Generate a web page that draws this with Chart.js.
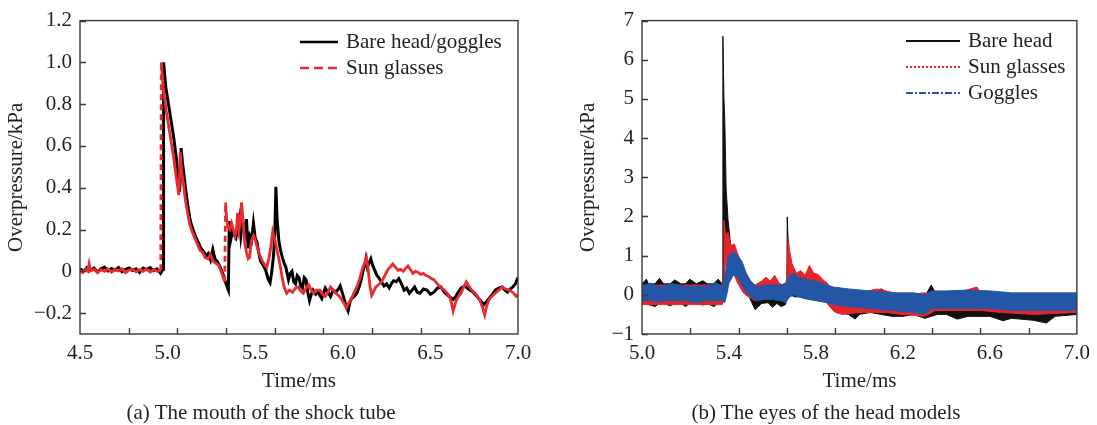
<!DOCTYPE html>
<html>
<head>
<meta charset="utf-8">
<script src="https://cdn.jsdelivr.net/npm/chart.js@4.4.1/dist/chart.umd.min.js"></script>
<style>
  body { margin: 0; background: #fff; }
  #wrap { position: relative; width: 1097px; height: 425px; overflow: hidden; }
  .panel { position: absolute; top: 0; height: 425px; }
  .cap { position: absolute; top: 400px; line-height: 26px; font: 21px "Liberation Serif", serif; color: #231f20;
         white-space: nowrap; transform: translateX(-50%); }
</style>
</head>
<body>
<div id="wrap">
  <div class="panel" style="left:0;width:545px"><canvas id="chartA" width="545" height="425"></canvas></div>
  <div class="panel" style="left:545px;width:552px"><canvas id="chartB" width="552" height="425"></canvas></div>
  <div class="cap" style="left:261px">(a) The mouth of the shock tube</div>
  <div class="cap" style="left:826px">(b) The eyes of the head models</div>
</div>
<script>
// (a) mouth of the shock tube : [time ms, overpressure kPa]
var bareHeadA = [
  [4.500, 0.012], [4.520, 0.000], [4.540, 0.018], [4.560, 0.004], [4.580, 0.016], [4.600, -0.004],
  [4.620, 0.012], [4.640, 0.020], [4.660, 0.002], [4.680, 0.014], [4.700, 0.006], [4.720, 0.018],
  [4.740, -0.002], [4.760, 0.010], [4.780, 0.016], [4.800, 0.004], [4.820, 0.012], [4.840, -0.006],
  [4.860, 0.015], [4.880, 0.008], [4.900, 0.018], [4.920, 0.003], [4.940, 0.012], [4.960, -0.010],
  [4.974, 0.010], [4.977, 1.000], [4.990, 0.880], [5.005, 0.800], [5.020, 0.720], [5.035, 0.640],
  [5.050, 0.540], [5.060, 0.460], [5.068, 0.380], [5.073, 0.450], [5.077, 0.590], [5.085, 0.520],
  [5.095, 0.450], [5.105, 0.380], [5.118, 0.300], [5.130, 0.240], [5.145, 0.200], [5.160, 0.165],
  [5.175, 0.140], [5.190, 0.110], [5.205, 0.095], [5.220, 0.075], [5.232, 0.085], [5.245, 0.055],
  [5.258, 0.105], [5.270, 0.060], [5.285, 0.045], [5.300, 0.020], [5.315, -0.010], [5.328, -0.045],
  [5.340, -0.075], [5.347, -0.090], [5.352, 0.240], [5.360, 0.150], [5.370, 0.190], [5.380, 0.175],
  [5.390, 0.160], [5.400, 0.200], [5.410, 0.250], [5.418, 0.170], [5.428, 0.240], [5.440, 0.175],
  [5.450, 0.250], [5.460, 0.110], [5.470, 0.170], [5.480, 0.150], [5.490, 0.230], [5.500, 0.160],
  [5.510, 0.140], [5.520, 0.090], [5.530, 0.050], [5.545, 0.030], [5.560, 0.005], [5.575, -0.040],
  [5.585, -0.055], [5.595, 0.000], [5.605, 0.080], [5.612, 0.180], [5.618, 0.405], [5.625, 0.250],
  [5.635, 0.145], [5.645, 0.100], [5.655, 0.067], [5.665, 0.040], [5.675, 0.020], [5.690, -0.040],
  [5.700, -0.010], [5.710, 0.000], [5.720, -0.050], [5.730, -0.060], [5.740, -0.020], [5.750, -0.030],
  [5.760, -0.070], [5.770, -0.080], [5.780, -0.030], [5.790, -0.040], [5.800, -0.100], [5.810, -0.140],
  [5.820, -0.110], [5.830, -0.090], [5.845, -0.110], [5.860, -0.100], [5.880, -0.130], [5.900, -0.080],
  [5.915, -0.100], [5.930, -0.120], [5.945, -0.090], [5.960, -0.100], [5.975, -0.085], [5.985, -0.070],
  [6.000, -0.110], [6.010, -0.140], [6.020, -0.170], [6.030, -0.190], [6.040, -0.150], [6.050, -0.130],
  [6.065, -0.120], [6.080, -0.105], [6.095, -0.070], [6.105, -0.040], [6.115, 0.000], [6.125, 0.030],
  [6.132, 0.060], [6.140, 0.020], [6.150, 0.040], [6.160, 0.060], [6.170, 0.030], [6.185, 0.000],
  [6.195, -0.020], [6.205, -0.030], [6.220, -0.050], [6.235, -0.070], [6.250, -0.060], [6.265, -0.080],
  [6.280, -0.055], [6.290, -0.045], [6.305, -0.050], [6.320, -0.035], [6.335, -0.060], [6.350, -0.090],
  [6.365, -0.080], [6.380, -0.105], [6.395, -0.090], [6.410, -0.075], [6.425, -0.100], [6.440, -0.105],
  [6.460, -0.085], [6.480, -0.090], [6.500, -0.110], [6.520, -0.100], [6.540, -0.080], [6.560, -0.075],
  [6.580, -0.100], [6.600, -0.115], [6.615, -0.125], [6.630, -0.135], [6.645, -0.120], [6.655, -0.105],
  [6.675, -0.080], [6.695, -0.070], [6.710, -0.080], [6.725, -0.090], [6.745, -0.100], [6.765, -0.120],
  [6.785, -0.140], [6.805, -0.160], [6.820, -0.145], [6.835, -0.130], [6.855, -0.110], [6.870, -0.090],
  [6.890, -0.080], [6.910, -0.075], [6.925, -0.090], [6.940, -0.100], [6.955, -0.085], [6.970, -0.075],
  [6.985, -0.060], [7.000, -0.030]
];
var sunGlassesA = [
  [4.500, 0.004], [4.515, -0.006], [4.530, 0.010], [4.545, 0.000], [4.552, 0.035], [4.560, 0.002],
  [4.580, 0.010], [4.600, -0.006], [4.620, 0.008], [4.640, 0.000], [4.660, 0.012], [4.680, -0.004],
  [4.700, 0.008], [4.720, 0.002], [4.740, 0.012], [4.760, -0.006], [4.780, 0.006], [4.800, 0.010],
  [4.820, -0.002], [4.840, 0.008], [4.860, 0.000], [4.880, 0.012], [4.900, -0.004], [4.920, 0.008],
  [4.940, 0.000], [4.961, 0.005], [4.964, 1.000], [4.975, 0.880], [4.990, 0.780], [5.005, 0.700],
  [5.020, 0.620], [5.035, 0.540], [5.048, 0.460], [5.058, 0.400], [5.064, 0.365], [5.068, 0.440],
  [5.072, 0.570], [5.080, 0.480], [5.090, 0.420], [5.100, 0.350], [5.112, 0.290], [5.125, 0.230],
  [5.140, 0.190], [5.155, 0.160], [5.170, 0.130], [5.185, 0.100], [5.200, 0.090], [5.215, 0.065],
  [5.230, 0.060], [5.245, 0.080], [5.258, 0.050], [5.272, 0.040], [5.290, 0.030], [5.305, 0.000],
  [5.318, -0.030], [5.326, -0.050], [5.331, 0.330], [5.337, 0.250], [5.345, 0.210], [5.355, 0.200],
  [5.365, 0.230], [5.375, 0.200], [5.385, 0.170], [5.393, 0.200], [5.400, 0.280], [5.408, 0.200],
  [5.416, 0.240], [5.422, 0.330], [5.430, 0.250], [5.440, 0.140], [5.450, 0.090], [5.460, 0.060],
  [5.468, 0.066], [5.478, 0.145], [5.490, 0.170], [5.500, 0.150], [5.510, 0.120], [5.525, 0.080],
  [5.540, 0.050], [5.555, 0.030], [5.566, 0.020], [5.578, 0.060], [5.590, 0.120], [5.600, 0.190],
  [5.610, 0.160], [5.625, 0.100], [5.640, 0.040], [5.652, -0.020], [5.665, -0.075], [5.680, -0.105],
  [5.695, -0.090], [5.713, -0.100], [5.730, -0.080], [5.745, -0.075], [5.760, -0.095], [5.775, -0.105],
  [5.790, -0.080], [5.805, -0.065], [5.820, -0.090], [5.835, -0.105], [5.850, -0.090], [5.870, -0.090],
  [5.885, -0.110], [5.900, -0.120], [5.915, -0.100], [5.930, -0.075], [5.945, -0.090], [5.960, -0.105],
  [5.975, -0.115], [5.990, -0.130], [6.005, -0.150], [6.020, -0.175], [6.035, -0.150], [6.050, -0.130],
  [6.065, -0.100], [6.080, -0.075], [6.095, -0.040], [6.105, -0.010], [6.115, 0.020], [6.125, 0.040],
  [6.135, 0.065], [6.145, 0.010], [6.155, -0.070], [6.165, -0.115], [6.175, -0.100], [6.185, -0.080],
  [6.195, -0.070], [6.210, -0.060], [6.225, -0.045], [6.240, -0.020], [6.255, 0.005], [6.270, 0.020],
  [6.285, 0.035], [6.300, 0.020], [6.315, 0.005], [6.330, 0.010], [6.345, 0.000], [6.360, 0.015],
  [6.372, 0.026], [6.385, 0.010], [6.400, -0.010], [6.415, 0.000], [6.430, -0.005], [6.445, -0.015],
  [6.460, -0.010], [6.475, -0.020], [6.490, -0.025], [6.505, -0.035], [6.520, -0.040], [6.535, -0.055],
  [6.550, -0.070], [6.565, -0.080], [6.580, -0.090], [6.595, -0.105], [6.610, -0.120], [6.620, -0.150],
  [6.630, -0.190], [6.645, -0.145], [6.660, -0.120], [6.675, -0.105], [6.690, -0.075], [6.705, -0.050],
  [6.720, -0.070], [6.735, -0.090], [6.750, -0.100], [6.765, -0.115], [6.780, -0.135], [6.790, -0.155],
  [6.800, -0.180], [6.810, -0.210], [6.820, -0.170], [6.835, -0.135], [6.850, -0.120], [6.870, -0.105],
  [6.890, -0.090], [6.910, -0.075], [6.930, -0.085], [6.950, -0.090], [6.970, -0.100], [6.990, -0.120],
  [7.000, -0.110]
];
var xLabelsA = [4.5, 5.0, 5.5, 6.0, 6.5, 7.0];
var yLabelsA = [-0.2, 0, 0.2, 0.4, 0.6, 0.8, 1.0, 1.2];

// (b) eyes of the head models : noise band [time ms, upper kPa, lower kPa]
var bareHeadB = [
  [5.00, 0.28, -0.22], [5.02, 0.40, -0.22], [5.03, 0.28, -0.25], [5.06, 0.28, -0.30], [5.08, 0.42, -0.22],
  [5.10, 0.28, -0.22], [5.13, 0.28, -0.28], [5.15, 0.38, -0.22], [5.18, 0.28, -0.22], [5.20, 0.28, -0.30],
  [5.22, 0.40, -0.22], [5.25, 0.28, -0.22], [5.28, 0.36, -0.26], [5.30, 0.28, -0.22], [5.33, 0.28, -0.30],
  [5.35, 0.40, -0.22], [5.368, 0.28, -0.20], [5.372, 6.60, -0.10], [5.377, 5.00, 1.20], [5.381, 4.40, 1.50],
  [5.387, 2.70, 1.40], [5.396, 1.90, 1.20], [5.407, 1.30, 1.00], [5.43, 1.00, 0.80], [5.46, 0.75, 0.50],
  [5.48, 0.40, 0.10], [5.505, 0.10, -0.20], [5.52, 0.15, -0.38], [5.55, 0.25, -0.22], [5.58, 0.30, -0.20],
  [5.60, 0.22, -0.32], [5.62, 0.30, -0.22], [5.64, 0.20, -0.30], [5.66, 0.25, -0.25], [5.666, 0.25, -0.10],
  [5.668, 1.99, 0.00], [5.674, 1.05, 0.00], [5.686, 0.55, 0.00], [5.70, 0.45, -0.05], [5.75, 0.50, -0.05],
  [5.80, 0.45, -0.05], [5.85, 0.30, -0.20], [5.88, 0.10, -0.40], [5.90, 0.00, -0.45], [5.95, -0.05, -0.50],
  [5.98, -0.05, -0.62], [6.00, -0.05, -0.50], [6.05, 0.05, -0.45], [6.10, 0.15, -0.50], [6.15, 0.00, -0.55],
  [6.20, -0.05, -0.55], [6.25, -0.05, -0.50], [6.30, -0.05, -0.60], [6.33, 0.25, -0.55], [6.36, -0.05, -0.50],
  [6.40, -0.05, -0.50], [6.45, -0.05, -0.62], [6.50, 0.00, -0.55], [6.60, -0.05, -0.55], [6.66, -0.05, -0.66],
  [6.70, -0.05, -0.60], [6.80, -0.05, -0.65], [6.86, -0.05, -0.72], [6.90, -0.05, -0.55], [7.00, -0.05, -0.50]
];
var sunGlassesB = [
  [5.00, 0.25, -0.25], [5.10, 0.25, -0.25], [5.20, 0.25, -0.25], [5.30, 0.25, -0.25], [5.37, 0.25, -0.25],
  [5.374, 0.30, -0.10], [5.377, 1.90, 0.30], [5.385, 1.50, 0.90], [5.395, 1.60, 0.70], [5.41, 1.25, 0.60],
  [5.425, 1.30, 0.50], [5.44, 1.05, 0.30], [5.46, 0.75, 0.10], [5.475, 0.55, 0.00], [5.49, 0.35, -0.05],
  [5.505, 0.20, -0.10], [5.52, 0.25, -0.15], [5.55, 0.35, -0.10], [5.57, 0.45, 0.00], [5.59, 0.35, 0.05],
  [5.61, 0.50, 0.05], [5.63, 0.30, -0.05], [5.65, 0.25, -0.10], [5.666, 0.20, -0.10], [5.672, 1.45, 0.00],
  [5.68, 1.10, 0.20], [5.69, 0.80, 0.20], [5.71, 0.55, 0.15], [5.73, 0.62, 0.10], [5.75, 0.50, 0.15],
  [5.77, 0.75, 0.20], [5.79, 0.55, 0.20], [5.81, 0.52, 0.15], [5.83, 0.40, 0.00], [5.85, 0.30, -0.20],
  [5.87, 0.10, -0.35], [5.89, 0.05, -0.45], [5.92, 0.05, -0.50], [6.00, 0.05, -0.45], [6.08, 0.15, -0.45],
  [6.12, 0.10, -0.45], [6.20, 0.00, -0.50], [6.30, 0.05, -0.55], [6.35, 0.00, -0.40], [6.45, 0.05, -0.40],
  [6.54, 0.20, -0.40], [6.56, 0.05, -0.40], [6.65, 0.00, -0.45], [6.80, 0.00, -0.50], [7.00, -0.05, -0.45]
];
var gogglesB = [
  [5.00, 0.22, -0.15], [5.04, 0.30, -0.15], [5.07, 0.22, -0.18], [5.10, 0.22, -0.15], [5.14, 0.28, -0.15],
  [5.20, 0.22, -0.15], [5.24, 0.22, -0.20], [5.30, 0.22, -0.15], [5.34, 0.30, -0.15], [5.372, 0.22, -0.15],
  [5.38, 0.40, -0.20], [5.39, 0.80, 0.00], [5.40, 1.00, 0.30], [5.42, 1.10, 0.50], [5.44, 1.00, 0.45],
  [5.46, 0.85, 0.25], [5.48, 0.55, 0.05], [5.50, 0.35, -0.05], [5.53, 0.20, -0.15], [5.56, 0.25, -0.12],
  [5.60, 0.25, -0.12], [5.64, 0.25, -0.15], [5.66, 0.30, -0.20], [5.68, 0.50, -0.05], [5.70, 0.55, 0.00],
  [5.72, 0.45, -0.05], [5.75, 0.40, -0.10], [5.80, 0.35, -0.15], [5.85, 0.25, -0.20], [5.88, 0.20, -0.25],
  [5.95, 0.15, -0.30], [6.05, 0.10, -0.35], [6.15, 0.05, -0.40], [6.25, 0.05, -0.45], [6.30, 0.00, -0.50],
  [6.33, 0.10, -0.35], [6.40, 0.10, -0.35], [6.50, 0.12, -0.35], [6.60, 0.10, -0.35], [6.70, 0.05, -0.40],
  [6.80, 0.05, -0.40], [6.90, 0.05, -0.40], [7.00, 0.05, -0.40]
];
var xLabelsB = [5.0, 5.4, 5.8, 6.2, 6.6, 7.0];
var yLabelsB = [-1, 0, 1, 2, 3, 4, 5, 6, 7];

var FONT = '"Liberation Serif", "Times New Roman", serif';
var INK = '#231f20';
var AXIS = '#3a3a3a';
Chart.defaults.font.family = FONT;
Chart.defaults.font.size = 21;
Chart.defaults.color = INK;

function minus(s) { return s.replace('-', '\u2212'); }

// box, inward ticks (9 divisions on x) and the legend inside the plot
var framePlugin = {
  id: 'frame',
  afterDatasetsDraw: function(chart, args, opts) {
    var ctx = chart.ctx, a = chart.chartArea, x = chart.scales.x, y = chart.scales.y;
    ctx.save();
    ctx.strokeStyle = AXIS;
    ctx.lineWidth = 1.4;
    ctx.strokeRect(a.left, a.top, a.right - a.left, a.bottom - a.top);
    ctx.beginPath();
    for (var k = 1; k < 9; k++) {
      var px = Math.round(x.getPixelForValue(x.min + k * (x.max - x.min) / 9)) + 0.5;
      ctx.moveTo(px, a.bottom); ctx.lineTo(px, a.bottom - 6);
    }
    y.ticks.forEach(function(t) {
      var py = Math.round(y.getPixelForValue(t.value)) + 0.5;
      ctx.moveTo(a.left, py); ctx.lineTo(a.left + 6, py);
    });
    ctx.stroke();

    var items = chart.data.datasets.filter(function(d) { return d.legendLabel; })
      .sort(function(p, q) { return p.legendRank - q.legendRank; });
    ctx.font = '21px ' + FONT;
    ctx.textBaseline = 'middle';
    ctx.fillStyle = INK;
    items.forEach(function(d, i) {
      var ry = opts.rows[i];
      ctx.beginPath();
      ctx.strokeStyle = d.borderColor;
      ctx.lineWidth = d.legendWidth || 2;
      ctx.setLineDash(d.legendDash || []);
      ctx.moveTo(opts.x0, ry); ctx.lineTo(opts.x1, ry);
      ctx.stroke();
      ctx.setLineDash([]);
      ctx.fillText(d.legendLabel, opts.tx, ry);
    });
    ctx.restore();
  }
};

function scalesFor(xMin, xMax, xLabels, yMin, yMax, yLabels, yFmt, yWidth, yTitlePad) {
  return {
    x: {
      type: 'linear', min: xMin, max: xMax,
      afterBuildTicks: function(s) { s.ticks = xLabels.map(function(v) { return { value: v }; }); },
      afterFit: function(s) { s.height = 60; },
      ticks: { padding: 7, maxRotation: 0, autoSkip: false, color: INK,
               callback: function(v) { return v.toFixed(1); } },
      grid: { display: false, drawTicks: false },
      border: { display: false },
      title: { display: true, text: 'Time/ms', color: INK, padding: { top: 0, bottom: 0 } }
    },
    y: {
      min: yMin, max: yMax,
      afterBuildTicks: function(s) { s.ticks = yLabels.map(function(v) { return { value: v }; }); },
      afterFit: function(s) { s.width = yWidth; },
      ticks: { padding: 8, autoSkip: false, color: INK, callback: function(v) { return minus(yFmt(v)); } },
      grid: { display: false, drawTicks: false },
      border: { display: false },
      title: { display: true, text: 'Overpressure/kPa', color: INK, padding: { top: yTitlePad, bottom: 0 } }
    }
  };
}

// ---- (a) ----
new Chart(document.getElementById('chartA'), {
  type: 'line',
  data: {
    datasets: [
      {
        data: sunGlassesA.map(function(p) { return { x: p[0], y: p[1] }; }),
        borderColor: '#ea2a2f', borderWidth: 2.8, pointRadius: 0, tension: 0, order: 0,
        segment: { borderDash: function(c) { return Math.abs(c.p1.y - c.p0.y) > 40 ? [6, 4] : undefined; } },
        legendLabel: 'Sun glasses', legendRank: 1, legendDash: [9, 5], legendWidth: 2.5
      },
      {
        data: bareHeadA.map(function(p) { return { x: p[0], y: p[1] }; }),
        borderColor: '#000000', borderWidth: 3, pointRadius: 0, tension: 0, order: 1,
        legendLabel: 'Bare head/goggles', legendRank: 0, legendWidth: 2.5
      }
    ]
  },
  options: {
    responsive: false, animation: false, events: [],
    layout: { padding: { left: 0, right: 27, top: 16, bottom: 31 } },
    scales: scalesFor(4.5, 7.0, xLabelsA, -0.3, 1.2, yLabelsA,
      function(v) { return v === 0 ? '0' : v.toFixed(1); }, 80, 4),
    plugins: { legend: { display: false }, tooltip: { enabled: false },
               frame: { x0: 300, x1: 338, tx: 346, rows: [42, 68] } }
  },
  plugins: [framePlugin]
});

// ---- (b) ----
function band(rows, color, label, rank, dash, order) {
  return [
    {
      data: rows.map(function(r) { return { x: r[0], y: r[1] }; }),
      borderColor: color, backgroundColor: color, borderWidth: 1, pointRadius: 0, tension: 0,
      fill: '+1', order: order, legendLabel: label, legendRank: rank, legendDash: dash, legendWidth: 2
    },
    {
      data: rows.map(function(r) { return { x: r[0], y: r[2] }; }),
      borderColor: color, borderWidth: 1, pointRadius: 0, tension: 0, fill: false, order: order
    }
  ];
}

new Chart(document.getElementById('chartB'), {
  type: 'line',
  data: {
    datasets: [].concat(
      band(gogglesB, '#2456a6', 'Goggles', 2, [7, 2, 2, 2], 0),
      band(sunGlassesB, '#e8242b', 'Sun glasses', 1, [2, 2], 1),
      band(bareHeadB, '#111111', 'Bare head', 0, [], 2)
    )
  },
  options: {
    responsive: false, animation: false, events: [],
    layout: { padding: { left: 27, right: 14, top: 16, bottom: 31 } },
    scales: scalesFor(5.0, 7.0, xLabelsB, -1, 7, yLabelsB,
      function(v) { return String(v); }, 70, 4),
    plugins: { legend: { display: false }, tooltip: { enabled: false },
               filler: { propagate: false },
               frame: { x0: 361, x1: 415, tx: 423, rows: [41, 67, 93] } }
  },
  plugins: [framePlugin]
});
</script>
</body>
</html>
